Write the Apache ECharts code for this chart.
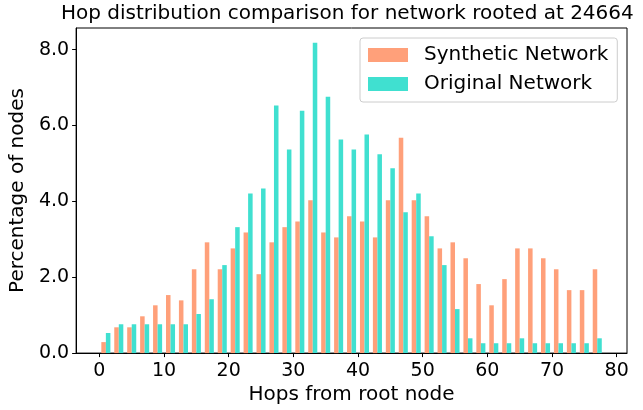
<!DOCTYPE html>
<html style="height: 100%">
	<head>
		<meta charset="utf-8">
	</head>
	<body style="height: 100%; margin: 0; background: #fff">
		<div id="container" style="width: 643px; height: 410px"></div>

		<script type="text/javascript" src="https://cdn.jsdelivr.net/npm/echarts@6/dist/echarts.min.js"></script>
		<script type="text/javascript">
			var dom = document.getElementById("container");
			var myChart = echarts.init(dom);

			// hop counts (bar group centres)
			const hops = [1, 3, 5, 7, 9, 11, 13, 15, 17, 19, 21, 23, 25, 27, 29, 31, 33, 35, 37, 39,
				41, 43, 45, 47, 49, 51, 53, 55, 57, 59, 61, 63, 65, 67, 69, 71, 73, 75, 77];
			// percentage of nodes
			const synthetic = [0.29, 0.68, 0.68, 0.97, 1.26, 1.53, 1.39, 2.21, 2.92, 2.21, 2.76, 3.18, 2.08,
				2.92, 3.32, 3.47, 4.03, 3.18, 3.05, 3.61, 3.47, 3.05, 4.03, 5.68, 4.03, 3.61,
				2.76, 2.92, 2.50, 1.82, 1.26, 1.95, 2.76, 2.76, 2.50, 2.21, 1.66, 1.66, 2.21];
			const original = [0.53, 0.76, 0.76, 0.76, 0.76, 0.76, 0.76, 1.03, 1.42, 2.32, 3.32, 4.21, 4.34,
				6.53, 5.37, 6.39, 8.18, 6.76, 5.63, 5.37, 5.76, 5.24, 4.87, 3.71, 4.21, 3.08,
				2.32, 1.16, 0.39, 0.26, 0.26, 0.26, 0.39, 0.26, 0.26, 0.26, 0.26, 0.26, 0.39];
			const xTicks = [0, 10, 20, 30, 40, 50, 60, 70, 80];
			const yTicks = [0, 2, 4, 6, 8];

			function pairs(ys) {
				return hops.map(function(h, i) {
					return [h, ys[i]];
				});
			}

			var font = 'DejaVu Sans';

			var option = {
				animation: false,
				title: {
					text: 'Hop distribution comparison for network rooted at 24664',
					left: 61,
					top: 4,
					padding: 0,
					textStyle: {
						fontFamily: font,
						fontSize: 20,
						fontWeight: 'normal',
						color: '#000'
					}
				},
				legend: {
					orient: 'vertical',
					left: 360,
					top: 38,
					padding: [7, 9, 8, 8],
					itemGap: 9,
					itemWidth: 40,
					itemHeight: 14,
					icon: 'rect',
					borderColor: '#cccccc',
					borderWidth: 1,
					borderRadius: 3,
					backgroundColor: 'rgba(255,255,255,0.8)',
					textStyle: {
						fontFamily: font,
						fontSize: 20,
						lineHeight: 20,
						color: '#000',
						padding: [0, 0, 0, 11]
					},
					data: ['Synthetic Network', 'Original Network']
				},
				grid: {
					left: 69,
					right: 16,
					top: 28,
					bottom: 56,
					show: true,
					borderColor: '#000',
					borderWidth: 1
				},
				xAxis: {
					type: 'value',
					min: -3.6,
					max: 81.6,
					name: 'Hops from root node',
					nameLocation: 'middle',
					nameGap: 27,
					nameTextStyle: {
						fontFamily: font,
						fontSize: 20,
						color: '#000'
					},
					splitLine: { show: false },
					axisLine: { show: true, onZero: false, lineStyle: { color: '#000' } },
					axisTick: {
						show: true,
						length: 4,
						customValues: xTicks,
						lineStyle: { color: '#000' }
					},
					axisLabel: {
						customValues: xTicks,
						margin: 8,
						fontFamily: font,
						fontSize: 19,
						color: '#000'
					}
				},
				yAxis: {
					type: 'value',
					min: 0,
					max: 8.57,
					name: 'Percentage of nodes',
					nameLocation: 'middle',
					nameGap: 44,
					nameTextStyle: {
						fontFamily: font,
						fontSize: 20,
						color: '#000'
					},
					splitLine: { show: false },
					axisLine: { show: true, onZero: false, lineStyle: { color: '#000' } },
					axisTick: {
						show: true,
						length: 4,
						customValues: yTicks,
						lineStyle: { color: '#000' }
					},
					axisLabel: {
						customValues: yTicks,
						margin: 7,
						fontFamily: font,
						fontSize: 19,
						color: '#000',
						formatter: function(v) {
							return v.toFixed(1);
						}
					}
				},
				series: [{
						type: 'bar',
						name: 'Synthetic Network',
						data: pairs(synthetic),
						barGap: '0%',
						barCategoryGap: '30%',
						itemStyle: { color: '#FFA07A' }
					},
					{
						type: 'bar',
						name: 'Original Network',
						data: pairs(original),
						barGap: '0%',
						barCategoryGap: '30%',
						itemStyle: { color: '#40E0D0' }
					}
				]
			};

			if (option && typeof option === 'object') {
				myChart.setOption(option);
			}
		</script>
	</body>
</html>
